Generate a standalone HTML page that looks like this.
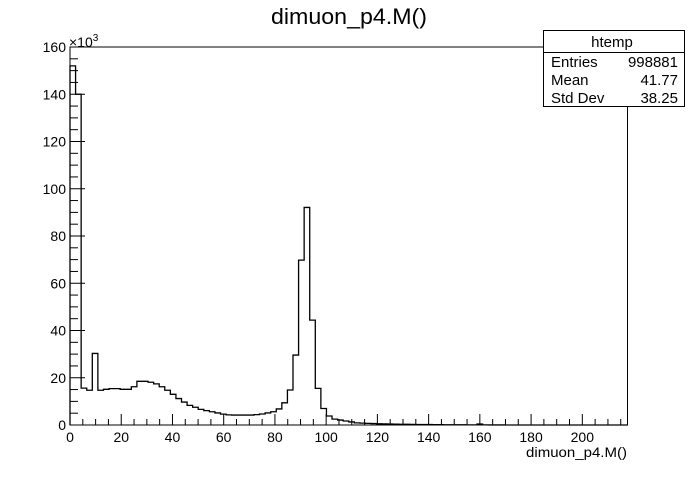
<!DOCTYPE html>
<html><head><meta charset="utf-8">
<style>
html,body{margin:0;padding:0;background:#fff;}
svg text{font-family:"Liberation Sans",Arial,sans-serif;fill:#000;}
</style></head>
<body>
<svg id="chart" width="696" height="472" viewBox="0 0 696 472" xmlns="http://www.w3.org/2000/svg">
<rect x="0" y="0" width="696" height="472" fill="#fff"/>
<text x="349" y="24" font-size="22" text-anchor="middle" textLength="156" lengthAdjust="spacingAndGlyphs">dimuon_p4.M()</text>
<g id="plot"></g>
<g>
<rect x="543.5" y="30.5" width="141" height="76" fill="#fff" stroke="#000" stroke-width="1"/>
<line x1="543.5" y1="52.5" x2="684.5" y2="52.5" stroke="#000"/>
<text x="612" y="47" font-size="15" text-anchor="middle">htemp</text>
<text x="551" y="67" font-size="15">Entries</text>
<text x="678" y="67" font-size="15" text-anchor="end">998881</text>
<text x="551" y="85" font-size="15">Mean</text>
<text x="678" y="85" font-size="15" text-anchor="end">41.77</text>
<text x="551" y="103" font-size="15">Std Dev</text>
<text x="678" y="103" font-size="15" text-anchor="end">38.25</text>
</g>
<text x="627" y="457" font-size="14" text-anchor="end" textLength="101" lengthAdjust="spacingAndGlyphs">dimuon_p4.M()</text>
<text x="69" y="47" font-size="14">×10<tspan dy="-6" font-size="10">3</tspan></text>
</svg>
<script>
const binWidth = 2.1764;
const counts = [152,140,15.6,14.7,30.3,14.7,15.1,15.4,15.4,15.1,15.1,16.2,18.5,18.5,18.1,17.4,16.2,14.7,13.0,11.2,9.7,8.3,7.5,6.6,6.1,5.6,5.1,4.6,4.3,4.2,4.2,4.2,4.2,4.4,4.65,5.1,5.6,6.8,9.4,14.8,29.6,69.8,92.1,44.4,15.5,7.0,3.8,2.5,2.1,1.7,1.3,0.9,0.8,0.7,0.6,0.5,0.45,0.4,0.35,0.3,0.3,0.25,0.2,0.2,0.2,0.15,0.15,0.1,0.1,0.1,0.08,0.06,0.05,0.4,0.04,0.03,0.02,0.02,0.01,0.01,0,0,0,0,0,0,0,0,0,0,0,0,0,0,0,0,0,0,0,0];
const xTicks = [0,20,40,60,80,100,120,140,160,180,200];
const yTicks = [0,20,40,60,80,100,120,140,160];

const X0=70, X1=627.5, Y0=425, Y1=47;
const xMax = binWidth*100, yMax=160;
const sx = v => X0 + v/xMax*(X1-X0);
const sy = v => Y0 - v/yMax*(Y0-Y1);
const NS="http://www.w3.org/2000/svg";
const g=document.getElementById('plot');
function mk(t,a){const e=document.createElementNS(NS,t);for(const k in a)e.setAttribute(k,a[k]);g.appendChild(e);return e;}

const frame=mk('rect',{x:X0,y:Y1,width:X1-X0,height:Y0-Y1,fill:'none',stroke:'#000','stroke-width':1});



let d=`M${sx(0)},${sy(0)}`;
counts.forEach((c,i)=>{d+=` L${sx(i*binWidth)},${sy(c)} L${sx((i+1)*binWidth)},${sy(c)}`;});
d+=` L${sx(counts.length*binWidth)},${sy(0)}`;
const h=mk('path',{d:d,fill:'none',stroke:'#000','stroke-width':1.3});



for(let v=0; v<=xMax; v+=5){
  const major = v%20===0;
  const t=mk('line',{x1:sx(v),y1:Y0,x2:sx(v),y2:Y0-(major?11:6),stroke:'#000','stroke-width':1});
  
  
}
xTicks.forEach(v=>{
  const t=mk('text',{x:sx(v),y:Y0+17,'font-size':14,'text-anchor':'middle'});
  t.textContent=v;
  
  
});
for(let v=0; v<=yMax; v+=5){
  const major = v%20===0;
  const t=mk('line',{x1:X0,y1:sy(v),x2:X0+(major?15:8),y2:sy(v),stroke:'#000','stroke-width':1});
  
  
}
yTicks.forEach(v=>{
  const t=mk('text',{x:X0-4,y:sy(v)+5,'font-size':14,'text-anchor':'end'});
  t.textContent=v;
  
  
});
</script>
</body></html>
